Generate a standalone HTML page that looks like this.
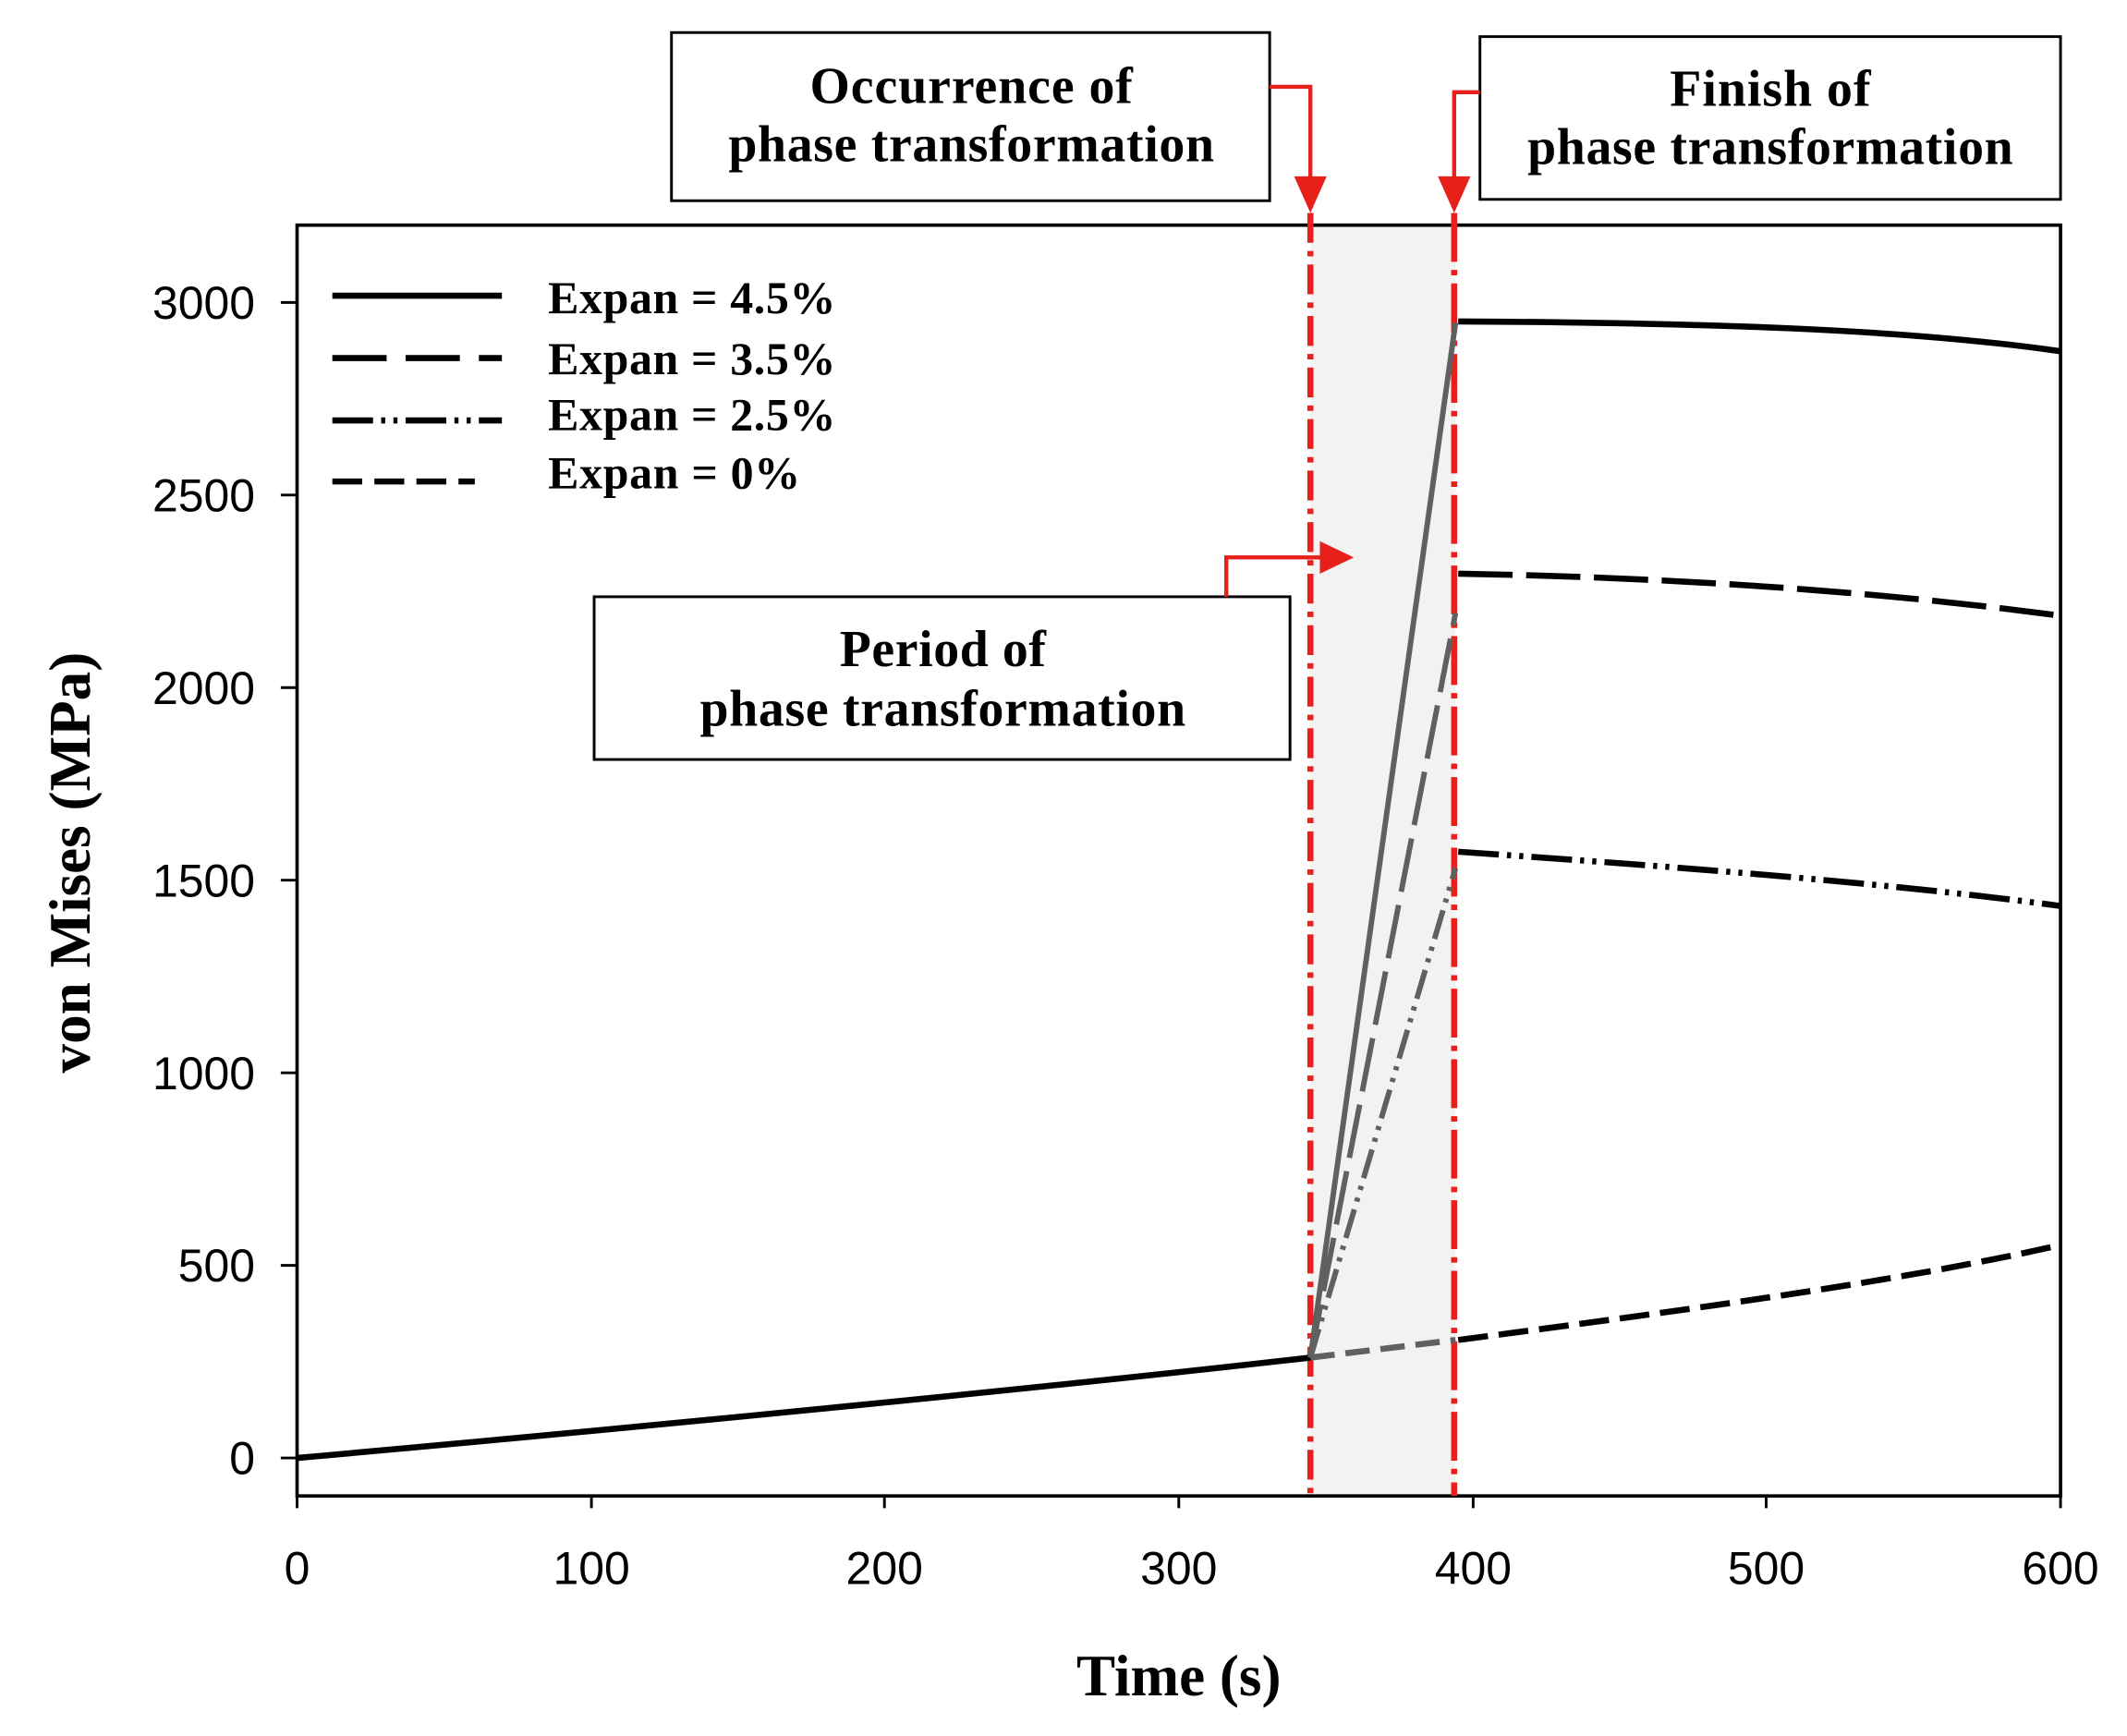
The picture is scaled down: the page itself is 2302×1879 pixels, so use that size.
<!DOCTYPE html>
<html><head><meta charset="utf-8"><style>html,body{margin:0;padding:0;background:#fff}svg{display:block}</style></head>
<body>
<svg width="2302" height="1879" viewBox="0 0 1568 1280" preserveAspectRatio="none" xmlns="http://www.w3.org/2000/svg">
<rect x="0" y="0" width="1568" height="1280" fill="#fff"/>
<rect x="966" y="167" width="107" height="935" fill="#f2f2f2"/>
<rect x="219" y="166" width="1300" height="937" fill="none" stroke="#000" stroke-width="2.5"/>
<g stroke="#000" stroke-width="2">
<line x1="219" y1="1103" x2="219" y2="1112"/><line x1="436" y1="1103" x2="436" y2="1112"/><line x1="652" y1="1103" x2="652" y2="1112"/><line x1="869" y1="1103" x2="869" y2="1112"/><line x1="1086" y1="1103" x2="1086" y2="1112"/><line x1="1302" y1="1103" x2="1302" y2="1112"/><line x1="1519" y1="1103" x2="1519" y2="1112"/>
<line x1="207" y1="1075" x2="219" y2="1075"/><line x1="207" y1="933" x2="219" y2="933"/><line x1="207" y1="791" x2="219" y2="791"/><line x1="207" y1="649" x2="219" y2="649"/><line x1="207" y1="507" x2="219" y2="507"/><line x1="207" y1="365" x2="219" y2="365"/><line x1="207" y1="223" x2="219" y2="223"/>
</g>
<g font-family="Liberation Sans, sans-serif" font-size="34" fill="#000">
<g text-anchor="end"><text x="188" y="1087">0</text><text x="188" y="945">500</text><text x="188" y="803">1000</text><text x="188" y="661">1500</text><text x="188" y="519">2000</text><text x="188" y="377">2500</text><text x="188" y="235">3000</text></g>
<g text-anchor="middle"><text x="219" y="1168">0</text><text x="436" y="1168">100</text><text x="652" y="1168">200</text><text x="869" y="1168">300</text><text x="1086" y="1168">400</text><text x="1302" y="1168">500</text><text x="1519" y="1168">600</text></g>
</g>
<g font-family="Liberation Serif, serif" font-weight="bold" fill="#000">
<text x="869" y="1250" font-size="43" text-anchor="middle">Time (s)</text>
<text transform="translate(66,636) rotate(-90)" font-size="43" text-anchor="middle">von Mises (MPa)</text>
</g>
<line x1="966" y1="157" x2="966" y2="1103" stroke="#e8201c" stroke-width="4.5" stroke-dasharray="22,6,4,6"/>
<line x1="1072" y1="157" x2="1072" y2="1103" stroke="#e8201c" stroke-width="4.5" stroke-dasharray="36,6,4,6"/>
<path d="M219,1075 C500,1050 800,1020 966,1001" fill="none" stroke="#000" stroke-width="4.5"/>
<line x1="966" y1="1001" x2="1073" y2="238" stroke="#606060" stroke-width="4"/>
<line x1="966" y1="1001" x2="1073" y2="452" stroke="#606060" stroke-width="4" stroke-dasharray="40,10"/>
<line x1="966" y1="1001" x2="1073" y2="640" stroke="#606060" stroke-width="4" stroke-dasharray="22,6,3,6,3,6"/>
<line x1="966" y1="1001" x2="1073" y2="988" stroke="#606060" stroke-width="4.5" stroke-dasharray="18,8"/>
<path d="M1075,237 C1250,238 1400,242 1519,259" fill="none" stroke="#000" stroke-width="4.5"/>
<path d="M1075,423 C1250,426 1400,438 1519,454" fill="none" stroke="#000" stroke-width="4.5" stroke-dasharray="40,10"/>
<path d="M1075,628 C1250,640 1400,652 1519,668" fill="none" stroke="#000" stroke-width="4.5" stroke-dasharray="30,6,3,6,3,6"/>
<path d="M1075,988 C1250,965 1400,945 1519,918" fill="none" stroke="#000" stroke-width="4.5" stroke-dasharray="22,8"/>
<line x1="245" y1="218" x2="370" y2="218" stroke="#000" stroke-width="4.5"/>
<line x1="245" y1="264" x2="370" y2="264" stroke="#000" stroke-width="4.5" stroke-dasharray="40,14"/>
<line x1="245" y1="310" x2="370" y2="310" stroke="#000" stroke-width="4.5" stroke-dasharray="30,6,3,6,3,6"/>
<line x1="245" y1="355" x2="350" y2="355" stroke="#000" stroke-width="4.5" stroke-dasharray="22,9"/>
<g font-family="Liberation Serif, serif" font-weight="bold" font-size="34" fill="#000">
<text x="404" y="231" textLength="212">Expan = 4.5%</text><text x="404" y="276" textLength="212">Expan = 3.5%</text><text x="404" y="317" textLength="212">Expan = 2.5%</text><text x="404" y="360" textLength="186">Expan = 0%</text>
</g>
<g fill="#fff" stroke="#000" stroke-width="2">
<rect x="495" y="24" width="441" height="124"/>
<rect x="1091" y="27" width="428" height="120"/>
<rect x="438" y="440" width="513" height="120"/>
</g>
<g font-family="Liberation Serif, serif" font-weight="bold" font-size="38" fill="#000" text-anchor="middle">
<text x="716" y="76" textLength="238">Occurrence of</text><text x="716" y="119" textLength="358">phase transformation</text>
<text x="1305" y="78" textLength="148">Finish of</text><text x="1305" y="121" textLength="358">phase transformation</text>
<text x="695" y="491" textLength="152">Period of</text><text x="695" y="535" textLength="358">phase transformation</text>
</g>
<g fill="none" stroke="#e8201c" stroke-width="3">
<polyline points="936,64 966,64 966,135"/>
<polyline points="1091,68 1072,68 1072,135"/>
<polyline points="904,440 904,411 978,411"/>
</g>
<g fill="#e8201c">
<polygon points="954,130 978,130 966,157"/>
<polygon points="1060,130 1084,130 1072,157"/>
<polygon points="973,399 973,423 998,411"/>
</g>
</svg>
</body></html>
